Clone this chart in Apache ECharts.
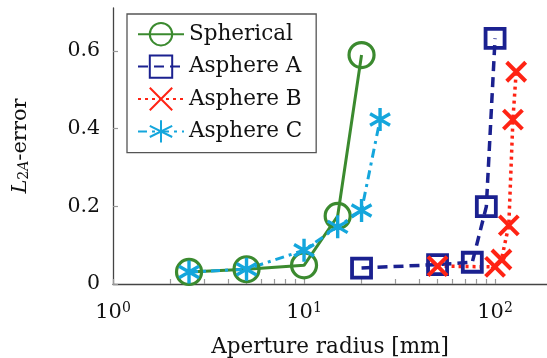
<!DOCTYPE html>
<html>
<head>
<meta charset="utf-8">
<script src="https://cdn.jsdelivr.net/npm/echarts@6/dist/echarts.min.js"></script>
<style>html,body{margin:0;padding:0;background:#fff}#c{width:547px;height:358px}</style>
</head>
<body>
<div id="c"></div>
<script>
// ---- data ----
const sphericalX = [2.5, 5, 10, 15, 20];
const sphericalY = [0.031, 0.038, 0.048, 0.175, 0.589];
const asphereAX = [20, 50, 76, 90, 100];
const asphereAY = [0.041, 0.05, 0.056, 0.199, 0.632];
const asphereBX = [50, 100, 108, 118, 124, 129];
const asphereBY = [0.046, 0.044, 0.063, 0.151, 0.423, 0.546];
const asphereCX = [2.5, 5, 10, 15, 20, 25];
const asphereCY = [0.031, 0.038, 0.087, 0.147, 0.189, 0.423];
const seriesNames = ['Spherical', 'Asphere A', 'Asphere B', 'Asphere C'];
const xMajorTicks = [1, 10, 100];
const xMinorTicks = [1,2,3,4,5,6,7,8,9,10,20,30,40,50,60,70,80,90,100];
const yTicks = [0, 0.2, 0.4, 0.6];

const FONT = 'DejaVu Serif';
const GREEN = '#3b8a2f', NAVY = '#1b2190', RED = '#ff2314', CYAN = '#14a6dc';
const pairs = (xs, ys) => xs.map((x, i) => [x, ys[i]]);

const XPATH = 'path://M0 0 L20 20 M20 0 L0 20';
const ASTPATH = 'path://M10 0 L10 20 M1.34 5 L18.66 15 M1.34 15 L18.66 5';

const chart = echarts.init(document.getElementById('c'), null, {renderer: 'canvas'});
chart.setOption({
  animation: false,
  backgroundColor: '#fff',
  grid: {left: 113, right: 0, top: 8, bottom: 74, containLabel: false, outerBoundsMode: 'none'},
  legend: {
    orient: 'vertical', left: 127, top: 14,
    data: seriesNames,
    itemWidth: 46, itemHeight: 28, itemGap: 8,
    padding: [8, 14, 9, 10],
    borderColor: '#555', borderWidth: 1.3,
    textStyle: {fontFamily: FONT, fontSize: 21.5, color: '#111'},
    selectedMode: false
  },
  xAxis: {
    type: 'log', logBase: 10, min: 1, max: 187,
    name: 'Aperture radius [mm]', nameLocation: 'middle', nameGap: 52,
    nameTextStyle: {fontFamily: FONT, fontSize: 21.5, color: '#111'},
    axisLine: {lineStyle: {color: '#444', width: 1.3}},
    axisTick: {inside: true, length: 5, customValues: xMinorTicks, lineStyle: {color: '#999', width: 1.2}},
    axisLabel: {
      customValues: xMajorTicks, margin: 17,
      formatter: v => '{b|10}{e|' + Math.round(Math.log10(v)) + '}',
      rich: {
        b: {fontFamily: FONT, fontSize: 21, color: '#111'},
        e: {fontFamily: FONT, fontSize: 14, color: '#111', verticalAlign: 'top', padding: [0, 0, 10, 0]}
      }
    },
    splitLine: {show: false}
  },
  yAxis: {
    type: 'value', min: 0, max: 0.71,
    name: '{i|L}{s|2}{si|A}{t|-error}', nameLocation: 'middle', nameGap: 82,
    nameTextStyle: {
      rich: {
        i: {fontFamily: FONT, fontSize: 21, fontStyle: 'italic', color: '#111'},
        s: {fontFamily: FONT, fontSize: 14, color: '#111', padding: [7, 0, 0, 0]},
        si: {fontFamily: FONT, fontSize: 14, fontStyle: 'italic', color: '#111', padding: [7, 0, 0, 0]},
        t: {fontFamily: FONT, fontSize: 21, color: '#111'}
      }
    },
    axisLine: {show: true, lineStyle: {color: '#444', width: 1.3}},
    axisTick: {show: true, inside: true, length: 5, customValues: yTicks, lineStyle: {color: '#999', width: 1.2}},
    axisLabel: {customValues: yTicks, margin: 13, fontFamily: FONT, fontSize: 20.5, color: '#111',
      formatter: v => String(v)},
    splitLine: {show: false}
  },
  series: [
    {
      name: 'Spherical', type: 'line', data: pairs(sphericalX, sphericalY), clip: false,
      symbol: 'circle', symbolSize: 25,
      lineStyle: {color: GREEN, width: 3, type: 'solid'},
      itemStyle: {color: 'rgba(0,0,0,0)', borderColor: GREEN, borderWidth: 3.2}
    },
    {
      name: 'Asphere A', type: 'line', data: pairs(asphereAX, asphereAY), clip: false,
      symbol: 'rect', symbolSize: 19,
      lineStyle: {color: NAVY, width: 3.5, type: [10, 6]},
      itemStyle: {color: 'rgba(0,0,0,0)', borderColor: NAVY, borderWidth: 3.8}
    },
    {
      name: 'Asphere B', type: 'line', data: pairs(asphereBX, asphereBY), clip: false,
      symbol: XPATH, symbolSize: 19, symbolKeepAspect: true,
      lineStyle: {color: RED, width: 3.5, type: [3, 4]},
      itemStyle: {color: 'rgba(0,0,0,0)', borderColor: RED, borderWidth: 4}
    },
    {
      name: 'Asphere C', type: 'line', data: pairs(asphereCX, asphereCY), clip: false,
      symbol: ASTPATH, symbolSize: 23, symbolKeepAspect: true,
      lineStyle: {color: CYAN, width: 3, type: [9, 5, 3, 5]},
      itemStyle: {color: 'rgba(0,0,0,0)', borderColor: CYAN, borderWidth: 3.4}
    }
  ]
});
</script>
</body>
</html>
